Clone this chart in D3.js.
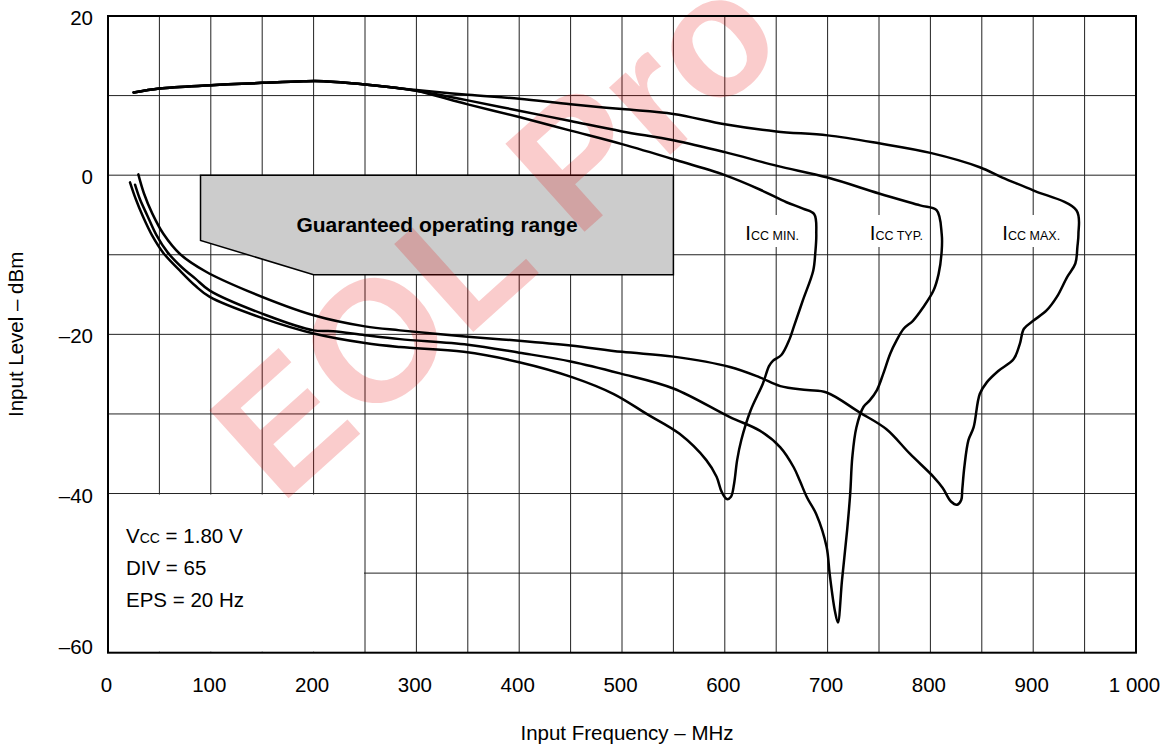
<!DOCTYPE html>
<html lang="en">
<head>
  <meta charset="UTF-8" />
  <title>Input Level vs Input Frequency</title>
  <script src="https://d3js.org/d3.v7.min.js"></script>
  <style>
    body { margin: 0; background: #fff; }
    svg { display: block; font-family: "Liberation Sans", Arial, sans-serif; }
    .grid line { stroke: #222; stroke-width: 1; }
    .curve { fill: none; stroke: #000; stroke-width: 2.5; stroke-linejoin: round; stroke-linecap: round; }
  </style>
</head>
<body>
<svg width="1168" height="748"></svg>
<script>
  // tick values
  const xTicks = [0, 100, 200, 300, 400, 500, 600, 700, 800, 900, 1000];
  const yTicks = [-60, -40, -20, 0, 20];

  // curves: [MHz, dBm], traced upper branch -> right edge -> lower branch
  const sharedTop = [[25, 10.4], [50, 10.9], [100, 11.3], [150, 11.6], [190, 11.8], [210, 11.8], [250, 11.4], [285, 10.9]];

  const iccMin = [
    [300, 10.6], [350, 8.9], [400, 7.3], [450, 5.6], [500, 3.9], [550, 2.0], [600, 0.0], [634, -1.8], [660, -3.4],
    [676, -4.2], [687, -4.9], [689, -7.4], [688, -9.8], [686, -12], [676, -15.7], [667, -19.1], [663, -20.6],
    [655, -22.6], [647, -23.3], [643, -24.0], [637, -26.2], [625, -29.6], [616, -33.3], [612, -35.8], [609, -38.8],
    [606, -40.4], [602, -40.7], [597, -39.8], [592, -37.9], [582, -35.8], [556, -32.5], [524, -30.0], [492, -27.5],
    [452, -25.4], [400, -23.5], [346, -22.2], [284, -21.6], [250, -21.1], [200, -19.9], [151, -18.0], [99, -15.3],
    [85, -13.9], [70, -12], [54, -9.8], [43, -7.6], [34, -5.2], [27, -3], [21.4, -0.9]
  ];

  const iccTyp = [
    [300, 10.6], [350, 9.4], [400, 8.1], [450, 6.8], [500, 5.5], [550, 4.4], [600, 2.9], [650, 1.2], [700, -0.3],
    [750, -2.3], [790, -3.8], [806, -4.4], [811, -7.4], [811, -9.5], [808, -12.4], [803, -14.5], [793, -16.6],
    [783, -18.3], [774, -19.3], [767, -20.8], [761, -22.4], [754, -25], [748, -27], [741, -28.3], [735, -29.1],
    [728, -31.7], [724, -35.5], [722, -40], [719, -44.6], [714, -50.9], [710, -56.2], [707, -54.7], [702, -50.1],
    [699, -46.7], [689, -42.6], [680, -40.5], [673, -38.4], [667, -36.7], [654, -34.2], [634, -32.1], [605, -30.4],
    [550, -26.8], [498, -24.9], [450, -23.4], [400, -22.3], [350, -21.3], [284, -20.6], [250, -20.1], [219, -19.6],
    [200, -19.5], [154, -17.6], [99, -14.5], [85, -13], [72, -11.6], [58, -9.7], [47, -7.5], [38, -5], [31, -3],
    [26.3, -1.2]
  ];

  const iccMax = [
    [300, 10.7], [350, 10.1], [400, 9.6], [450, 8.9], [500, 8.3], [550, 7.7], [600, 6.4], [650, 5.5], [700, 5.0],
    [750, 4.0], [800, 2.8], [848, 1.0], [870, -0.3], [900, -1.9], [942, -4.4], [944, -7.4], [943, -9.0], [941, -11.1],
    [933, -12.8], [923, -15.3], [913, -17], [900, -18.3], [891, -19.3], [887, -21.2], [881, -23.1], [866, -24.6],
    [855, -26], [848, -27.5], [842, -31.7], [837, -33.3], [833, -36.7], [831, -39.5], [830, -40.8], [826, -41.4],
    [820, -41], [812, -39.3], [803, -37.9], [780, -35], [757, -31.9], [731, -29.8], [699, -27.3], [680, -27.0],
    [654, -26.5], [634, -25.4], [605, -24.1], [550, -22.8], [500, -22.2], [450, -21.4], [400, -20.8], [350, -20.3],
    [284, -19.5], [250, -19.0], [200, -17.6], [135, -14.5], [95, -12.1], [70, -9.9], [54, -7.4], [43, -4.8],
    [35, -2.3], [29.5, 0.1]
  ];

  // guaranteed operating range outline [MHz, dBm]
  const opRange = [[90, 0], [550, 0], [550, -12.5], [200, -12.5], [90, -8.2]];

  const curveLabels = ["MIN.", "TYP.", "MAX."];
  const labelFreq = [620, 741, 870];
  const conditions = [["V", "CC", " = 1.80 V"], ["DIV = 65", "", ""], ["EPS = 20 Hz", "", ""]];

  const svg = d3.select("svg");
  const x = d3.scaleLinear().domain([0, 1000]).range([108, 1136]);
  const y = d3.scaleLinear().domain([-60, 20]).range([652.7, 16]);

  // grid
  const grid = svg.append("g").attr("class", "grid");
  grid.selectAll(".v").data(d3.range(50, 1000, 50)).join("line")
    .attr("x1", d => x(d)).attr("x2", d => x(d))
    .attr("y1", y(20)).attr("y2", y(-60));
  grid.selectAll(".h").data(d3.range(-50, 20, 10)).join("line")
    .attr("x1", x(0)).attr("x2", x(1000))
    .attr("y1", d => y(d)).attr("y2", d => y(d));

  // blank corner for the test conditions
  svg.append("rect")
    .attr("x", x(0) + 1).attr("y", y(-40) + 1)
    .attr("width", x(250) - x(0) - 2).attr("height", y(-60) - y(-40) - 2)
    .attr("fill", "#fff");

  // operating range
  svg.append("polygon")
    .attr("points", opRange.map(d => [x(d[0]), y(d[1])].join(",")).join(" "))
    .attr("fill", "#cccccc").attr("stroke", "#000").attr("stroke-width", 1.5);

  // watermark
  svg.append("text")
    .attr("transform", "translate(280,506) rotate(-42)")
    .attr("font-size", 172).attr("font-weight", "bold")
    .attr("fill", "#e60000").attr("fill-opacity", 0.2)
    .text("EOL Pro");

  svg.append("text")
    .attr("x", 437).attr("y", 232)
    .attr("text-anchor", "middle")
    .attr("font-size", 21).attr("font-weight", "bold")
    .text("Guaranteed operating range");

  // curve labels on white patches
  curveLabels.forEach((lab, i) => {
    const g = svg.append("g");
    const bg = g.append("rect").attr("fill", "#fff");
    const t = g.append("text").attr("x", x(labelFreq[i])).attr("y", 240).attr("font-size", 20.5);
    t.append("tspan").text("I");
    t.append("tspan").attr("font-size", 12.5).text("CC " + lab);
    const bb = t.node().getBBox();
    bg.attr("x", bb.x - 3).attr("y", 215).attr("width", bb.width + 6).attr("height", 32);
  });

  // curves
  const line = d3.line()
    .x(d => x(d[0])).y(d => y(d[1]))
    .curve(d3.curveCatmullRom.alpha(0.5));
  svg.selectAll(".curve").data([iccMin, iccTyp, iccMax]).join("path")
    .attr("class", "curve")
    .attr("d", d => line(sharedTop.concat(d)));

  // frame
  svg.append("rect")
    .attr("x", x(0)).attr("y", y(20))
    .attr("width", x(1000) - x(0)).attr("height", y(-60) - y(20))
    .attr("fill", "none").attr("stroke", "#000").attr("stroke-width", 2);

  // axes
  const xAxis = svg.append("g")
    .attr("transform", `translate(-2,${y(-60)})`)
    .call(d3.axisBottom(x).tickValues(xTicks).tickSize(0).tickPadding(25)
      .tickFormat(d => d === 1000 ? "1 000" : d));
  const yAxis = svg.append("g")
    .attr("transform", `translate(${x(0)},0)`)
    .call(d3.axisLeft(y).tickValues(yTicks).tickSize(0).tickPadding(15)
      .tickFormat(d => d < 0 ? "\u2013" + Math.abs(d) : d));
  [xAxis, yAxis].forEach(a => {
    a.select(".domain").remove();
    a.selectAll("text").attr("font-size", 20.5).attr("fill", "#000")
      .attr("font-family", "'Liberation Sans', Arial, sans-serif");
  });
  yAxis.selectAll("text").attr("dy", d => d === -60 ? "0.05em" : "0.42em");

  svg.append("text")
    .attr("x", 627).attr("y", 740)
    .attr("text-anchor", "middle").attr("font-size", 20.5)
    .text("Input Frequency \u2013 MHz");
  svg.append("text")
    .attr("transform", `translate(22.5,${y(-20)}) rotate(-90)`)
    .attr("text-anchor", "middle").attr("font-size", 20.5)
    .text("Input Level \u2013 dBm");

  // test conditions
  conditions.forEach((c, i) => {
    const t = svg.append("text").attr("x", 126).attr("y", 543.3 + i * 32).attr("font-size", 20.5);
    t.append("tspan").text(c[0]);
    if (c[1]) t.append("tspan").attr("font-size", 14).text(c[1]);
    if (c[2]) t.append("tspan").text(c[2]);
  });
</script>
</body>
</html>
